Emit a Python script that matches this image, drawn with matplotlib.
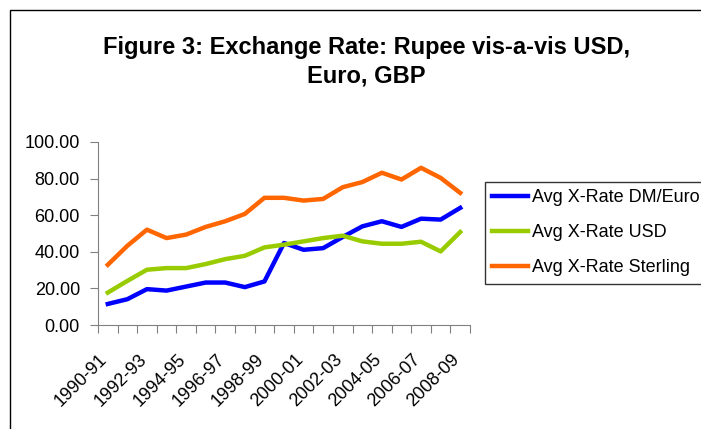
import numpy as np
import matplotlib.pyplot as plt
from matplotlib.patches import Rectangle
from matplotlib.transforms import ScaledTranslation

plt.rcParams['font.family'] = ['Liberation Sans', 'DejaVu Sans']

years = ['1990-91', '1991-92', '1992-93', '1993-94', '1994-95', '1995-96',
         '1996-97', '1997-98', '1998-99', '1999-00', '2000-01', '2001-02',
         '2002-03', '2003-04', '2004-05', '2005-06', '2006-07', '2007-08',
         '2008-09']
euro = [11.5, 14.1, 19.6, 18.8, 21.0, 23.2, 23.2, 20.7, 23.8, 44.8,
        41.1, 42.0, 48.1, 53.9, 56.7, 53.6, 58.1, 57.6, 64.0]
usd = [17.7, 24.1, 30.2, 31.1, 31.1, 33.3, 36.0, 37.8, 42.4, 43.9,
       45.7, 47.5, 48.8, 45.7, 44.4, 44.4, 45.5, 40.2, 50.8]
sterling = [32.9, 43.3, 52.1, 47.5, 49.4, 53.6, 56.7, 60.7, 69.5, 69.5,
            68.0, 68.9, 75.3, 78.1, 83.2, 79.5, 85.9, 80.4, 72.2]

fig = plt.figure(figsize=(7.01, 4.29), dpi=100)
ax = fig.add_axes([98/701, 1 - 325/429, (470 - 98)/701, (325 - 142)/429])

# outer chart border (runs off the right and bottom edges)
fig.patches.append(Rectangle((10/701, -0.1), 1.2, 1 - 10/429 + 0.1,
                             transform=fig.transFigure, fill=False,
                             edgecolor='black', linewidth=1.0))

x = np.arange(len(years))
ax.plot(x, euro, color='#0000FF', lw=3.2, label='Avg X-Rate DM/Euro')
ax.plot(x, usd, color='#99CC00', lw=3.2, label='Avg X-Rate USD')
ax.plot(x, sterling, color='#FF6600', lw=3.2, label='Avg X-Rate Sterling')

ax.set_xlim(-0.5, len(years) - 0.5)
ax.set_ylim(0, 100)
ax.set_yticks(np.arange(0, 101, 20))
ax.set_yticklabels([f'{v:.2f}' for v in range(0, 101, 20)], fontsize=13)
ax.tick_params(axis='y', pad=7)

# tick marks at category boundaries, labels on every second category
ax.set_xticks(np.arange(-0.5, len(years)), labels=[])
ax.set_xticks(x[::2], labels=years[::2], minor=True)
ax.tick_params(axis='x', which='minor', length=0, pad=10, labelsize=13)
ax.tick_params(axis='both', which='major', direction='out', length=6,
               color='#808080')
shift = ScaledTranslation(-0.09, -0.12, fig.dpi_scale_trans)
for lab in ax.get_xticklabels(minor=True):
    lab.set_rotation(45)
    lab.set_ha('right')
    lab.set_va('top')
    lab.set_rotation_mode('anchor')
    lab.set_transform(lab.get_transform() + shift)

for s in ['top', 'right']:
    ax.spines[s].set_visible(False)
for s in ['left', 'bottom']:
    ax.spines[s].set_color('#808080')

fig.text(0.523, 1 - 62/429, 'Figure 3: Exchange Rate: Rupee vis-a-vis USD,\nEuro, GBP',
         ha='center', va='center', fontsize=17, fontweight='bold',
         linespacing=1.3)

# legend box runs off the right edge, like the reference
leg = fig.legend(loc='upper left', bbox_to_anchor=(485/701, 1 - 182/429),
                 fontsize=13, frameon=True, fancybox=False, edgecolor='black',
                 handlelength=2.0, handletextpad=0.2, labelspacing=1.0,
                 borderaxespad=0, borderpad=0.4)
leg.get_frame().set_linewidth(1.0)

fig.savefig('out.png', dpi=100)
